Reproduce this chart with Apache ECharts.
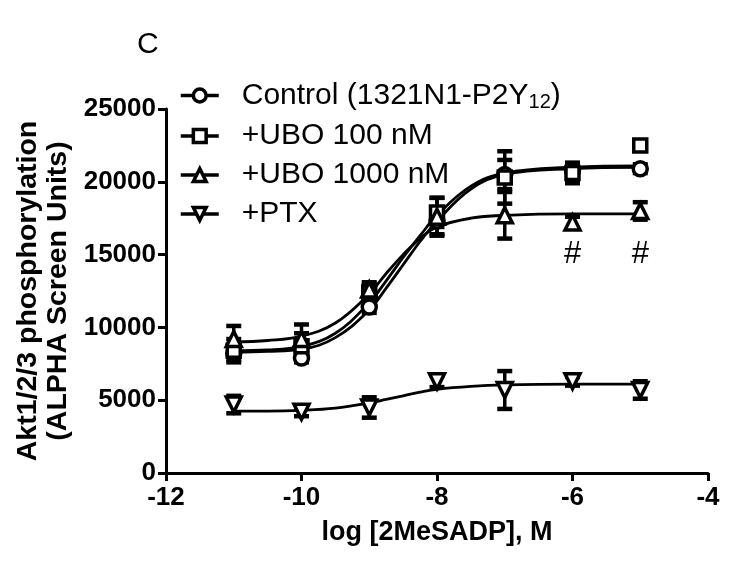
<!DOCTYPE html>
<html><head><meta charset="utf-8">
<script src="https://cdn.jsdelivr.net/npm/echarts@6/dist/echarts.min.js"></script>
<style>html,body{margin:0;padding:0;background:#fff}#c{width:732px;height:563px}</style>
</head><body><div id="c"></div>
<script>
// ---- data ----
const doses = [-11, -10, -9, -8, -7, -6, -5];
const groupNames = ['Control (1321N1-P2Y12)', '+UBO 100 nM', '+UBO 1000 nM', '+PTX'];
const controlMean = [8200, 7900, 11400, 17300, 20500, 20800, 20900];
const controlSem  = [400, 300, 400, 900, 1000, 500, 300];
const ubo100Mean  = [8400, 8700, 12400, 17900, 20300, 20600, 22500];
const ubo100Sem   = [800, 900, 600, 1000, 1800, 700, 300];
const ubo1000Mean = [9200, 9200, 12600, 17600, 17700, 17200, 18000];
const ubo1000Sem  = [900, 1000, 500, 1300, 1600, 400, 600];
const ptxMean     = [4700, 4200, 4500, 6300, 5700, 6300, 5700];
const ptxSem      = [600, 300, 700, 400, 1300, 300, 600];
// fitted curves
const curveX       = [-11, -10.5, -10, -9.5, -9, -8.75, -8.5, -8.25, -8, -7.5, -7, -6, -5];
const controlCurve = [8300, 8350, 8500, 9300, 11200, 12700, 14300, 15900, 17300, 19500, 20500, 20900, 21000];
const ubo100Curve  = [8400, 8450, 8700, 9600, 11700, 13200, 14800, 16300, 17700, 19700, 20600, 21000, 21100];
const ubo1000Curve = [9000, 9100, 9400, 10300, 12300, 13700, 15000, 16100, 16900, 17500, 17700, 17800, 17800];
const ptxCurve     = [4250, 4250, 4300, 4450, 4800, 5050, 5300, 5550, 5750, 5950, 6050, 6100, 6100];
const hashDoses = [-6, -5];
const hashLevel = [15000, 15000];
const xTicks = [-12, -10, -8, -6, -4];
const yTicks = [0, 5000, 10000, 15000, 20000, 25000];

const FONT = 'Liberation Sans, Arial, Helvetica, sans-serif';
const groups = [
  {name: groupNames[0], mean: controlMean, sem: controlSem, curve: controlCurve, symbol: 'circle', size: 14, rot: 0},
  {name: groupNames[1], mean: ubo100Mean, sem: ubo100Sem, curve: ubo100Curve, symbol: 'rect', size: 13, rot: 0},
  {name: groupNames[2], mean: ubo1000Mean, sem: ubo1000Sem, curve: ubo1000Curve, symbol: 'triangle', size: 15, rot: 0},
  {name: groupNames[3], mean: ptxMean, sem: ptxSem, curve: ptxCurve, symbol: 'triangle', size: 15, rot: 180}
];

function errRender(params, api) {
  const x = api.value(0), lo = api.value(1), hi = api.value(2);
  const a = api.coord([x, lo]), b = api.coord([x, hi]);
  const cw = 7.5;
  const st = {stroke: '#000', lineWidth: 3.5};
  const cap = {stroke: '#000', lineWidth: 4.5};
  return {type: 'group', children: [
    {type: 'line', shape: {x1: a[0], y1: a[1], x2: b[0], y2: b[1]}, style: st},
    {type: 'line', shape: {x1: a[0] - cw, y1: a[1], x2: a[0] + cw, y2: a[1]}, style: cap},
    {type: 'line', shape: {x1: b[0] - cw, y1: b[1], x2: b[0] + cw, y2: b[1]}, style: cap}
  ]};
}

const series = [];
groups.forEach((g, gi) => {
  const item = {color: '#fff', borderColor: '#000', borderWidth: 3.5, opacity: 1};
  series.push({
    name: g.name, type: 'line', smooth: 0.4, showSymbol: false,
    symbol: g.symbol, symbolSize: g.size, symbolRotate: g.rot,
    data: curveX.map((x, i) => [x, g.curve[i]]),
    lineStyle: {color: '#000', width: 2.8}, itemStyle: item, z: 2, silent: true
  });
  series.push({
    type: 'custom', renderItem: errRender, z: 3, silent: true,
    data: doses.map((x, i) => [x, g.mean[i] - g.sem[i], g.mean[i] + g.sem[i]])
  });
  series.push({
    name: g.name, type: 'scatter', symbol: g.symbol, symbolSize: g.size, symbolRotate: g.rot,
    data: doses.map((x, i) => [x, g.mean[i]]), itemStyle: item, z: 4 + gi, silent: true
  });
});
series.push({
  type: 'scatter', symbolSize: 1, silent: true, z: 10, itemStyle: {opacity: 0},
  data: hashDoses.map((x, i) => [x, hashLevel[i]]),
  label: {show: true, position: 'inside', formatter: '#', fontSize: 31, color: '#000', opacity: 1, fontFamily: FONT}
});

const chart = echarts.init(document.getElementById('c'), null, {renderer: 'canvas'});
chart.setOption({
  animation: false,
  backgroundColor: '#fff',
  textStyle: {fontFamily: FONT},
  grid: {left: 166, right: 24, top: 109, bottom: 90},
  graphic: [{type: 'text', left: 137, top: 30, style: {text: 'C', fontSize: 30, fill: '#000', fontFamily: FONT}}],
  legend: {
    data: groupNames, orient: 'vertical', left: 174, top: 75,
    itemWidth: 38, itemHeight: 16, itemGap: 8, selectedMode: false,
    itemStyle: {color: '#fff', borderColor: '#000', borderWidth: 3.5},
    lineStyle: {color: '#000', width: 3.5},
    textStyle: {fontSize: 30, color: '#000', fontFamily: FONT, lineHeight: 31, padding: [0, 0, 0, 18],
      rich: {a: {fontSize: 30, fontFamily: FONT, color: '#000'}, s: {fontSize: 20, fontFamily: FONT, color: '#000', padding: [14, 0, 0, 0]}}},
    formatter: n => n === groupNames[0] ? '{a|Control (1321N1-P2Y}{s|12}{a|)}' : n
  },
  xAxis: {
    type: 'value', min: xTicks[0], max: xTicks[xTicks.length - 1], interval: 2,
    name: 'log [2MeSADP], M', nameLocation: 'middle', nameGap: 46,
    nameTextStyle: {fontSize: 27, fontWeight: 'bold', color: '#000', fontFamily: FONT},
    axisLine: {lineStyle: {color: '#000', width: 3}},
    axisTick: {length: 8, lineStyle: {color: '#000', width: 3}},
    axisLabel: {fontSize: 26, fontWeight: 'bold', color: '#000', margin: 12, fontFamily: FONT},
    splitLine: {show: false}
  },
  yAxis: {
    type: 'value', min: yTicks[0], max: yTicks[yTicks.length - 1], interval: 5000,
    name: 'Akt1/2/3 phosphorylation\n(ALPHA Screen Units)', nameLocation: 'middle', nameGap: 90, nameRotate: 90,
    nameTextStyle: {fontSize: 28.5, fontWeight: 'bold', color: '#000', fontFamily: FONT, lineHeight: 30},
    axisLine: {show: true, lineStyle: {color: '#000', width: 3}},
    axisTick: {show: true, length: 8, lineStyle: {color: '#000', width: 3}},
    axisLabel: {fontSize: 26, fontWeight: 'bold', color: '#000', margin: 10, fontFamily: FONT, formatter: v => String(v)},
    splitLine: {show: false}
  },
  series: series
});
</script>
</body></html>
